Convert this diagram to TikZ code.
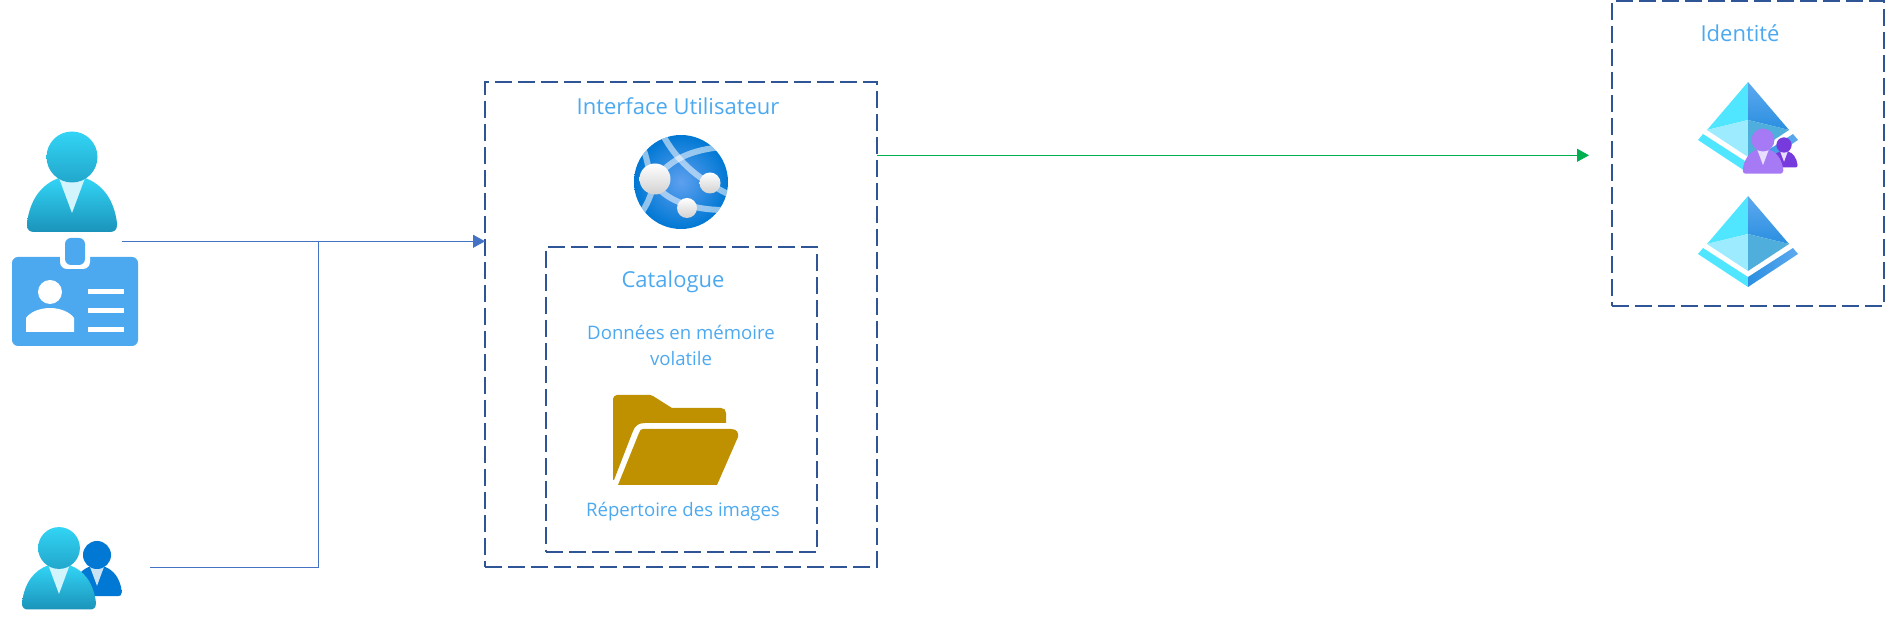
\documentclass[tikz,border=0pt]{standalone}
\usepackage{fontspec}
\setmainfont{Open Sans}
\usetikzlibrary{arrows.meta}
\definecolor{dashblue}{HTML}{2F5597}
\definecolor{linkblue}{HTML}{4472C4}
\definecolor{linkgreen}{HTML}{00B050}
\definecolor{labelblue}{HTML}{4DA9EF}
\definecolor{cyanhi}{HTML}{32D4F5}
\definecolor{cyanlo}{HTML}{1B93BA}
\definecolor{tiepale}{HTML}{D2F4FD}
\definecolor{azure}{HTML}{0078D4}
\definecolor{azuretie}{HTML}{C9E3F5}
\definecolor{azurelight}{HTML}{5EA0EF}
\definecolor{folder}{HTML}{BF9000}
\definecolor{purplefront}{HTML}{A67AF4}
\definecolor{purpleback}{HTML}{773ADC}
\definecolor{purpletie}{HTML}{E8DEFF}
\definecolor{pyrA}{HTML}{50E6FF}
\definecolor{pyrB}{HTML}{9CEBFF}
\definecolor{pyrC}{HTML}{50AEDC}
\definecolor{pyrD}{HTML}{5EA9EF}
\definecolor{pyrE}{HTML}{2A8FE0}
\tikzset{
  zonebox/.style={draw=dashblue,line width=1pt,dash pattern=on 8.5pt off 3pt,inner sep=0pt,outer sep=0pt},
  ziplabel/.style={text=labelblue,inner sep=0pt,align=center,font=\fontsize{11pt}{13pt}\selectfont},
  smalllabel/.style={text=labelblue,inner sep=0pt,align=center,font=\fontsize{9.3pt}{13.2pt}\selectfont},
  linkline/.style={draw=linkblue,line width=0.5pt},
  greenline/.style={draw=linkgreen,line width=0.5pt},
  ballshade/.style={top color=white,bottom color=black!18},
  streak/.style={draw=white,draw opacity=0.55,line width=3pt}
}
% x, y, scale, head top, head bottom, body top, body bottom, tie
\newcommand{\personglyph}[8]{%
  \begin{scope}[shift={(#1,#2)},scale=#3]
    \path[top color=#6,bottom color=#7] (-45,66) .. controls (-42,42) and (-30,27) .. (-13,21) -- (13,21)
      .. controls (30,27) and (42,42) .. (45,66) -- (45,68) .. controls (45,73) and (42,75) .. (38,75)
      -- (-38,75) .. controls (-42,75) and (-45,73) .. (-45,68) -- cycle;
    \fill[#8] (-13,21) -- (13,21) -- (0,56) -- cycle;
    \path[top color=#4,bottom color=#5] (0,0) circle (25.5);
  \end{scope}}
% y offset of the pyramid
\newcommand{\pyramidglyph}[1]{%
  \begin{scope}[shift={(0,#1)}]
    \fill[pyrA] (1748,196) -- (1707,244) -- (1748,234) -- cycle;
    \path[top color=pyrD,bottom color=pyrE] (1748,196) -- (1789,244) -- (1748,234) -- cycle;
    \fill[pyrB] (1707,244) -- (1748,234) -- (1748,271) -- cycle;
    \fill[pyrC] (1789,244) -- (1748,234) -- (1748,271) -- cycle;
    \fill[pyrA] (1698,254) -- (1703,248) -- (1748,277) -- (1748,287) -- cycle;
    \path[left color=pyrE,right color=pyrD] (1798,254) -- (1793,248) -- (1748,277) -- (1748,287) -- cycle;
  \end{scope}}
\begin{document}
\begin{tikzpicture}[x=0.5pt,y=-0.5pt]
\useasboundingbox (0,0) rectangle (1885,619);
% zones
\node[zonebox,minimum width=196pt,minimum height=242.5pt] (ui) at (681,324.5) {};
\node[zonebox,minimum width=135.5pt,minimum height=152.5pt] (cat) at (681.5,399.5) {};
\node[zonebox,minimum width=136pt,minimum height=152.5pt] (idz) at (1748,153.5) {};
% labels
\node[ziplabel] (tui) at (678,106) {Interface Utilisateur};
\node[ziplabel] (tcat) at (673,281.5) {Catalogue};
\node[smalllabel] (tmem) at (681,345.5) {Données en mémoire\\volatile};
\node[smalllabel] (trep) at (683,512) {Répertoire des images};
\node[ziplabel] (tid) at (1740,33) {Identité};
% connectors
\coordinate (usera) at (122,241.3);
\coordinate (userb) at (150,568);
\coordinate (junction) at (318,241.3);
\coordinate (greentip) at (1589,155.3);
\draw[linkline,-{Triangle[length=6pt,width=6.5pt]}] (usera) -- (usera -| ui.west);
\draw[linkline] (userb) -| (junction);
\draw[greenline,-{Triangle[length=6pt,width=6.5pt]}] (greentip -| ui.east) -- (greentip);
% user with badge
\personglyph{72}{157}{1}{cyanhi}{cyanlo!70!cyanhi}{cyanhi}{cyanlo}{tiepale}
\fill[labelblue,rounded corners=3pt] (12,257) rectangle (138,346);
\fill[white,rounded corners=3.5pt] (60,240) rectangle (90,269);
\fill[labelblue,rounded corners=3pt] (65,238) rectangle (85,265);
\fill[white] (50,292) circle (12);
\fill[white] (26,332) -- (26,318) .. controls (30,312) and (40,308) .. (50,308) .. controls (60,308) and (70,312) .. (74,318) -- (74,332) -- cycle;
\fill[white] (88,289.5) rectangle (124,294.5);
\fill[white] (88,308) rectangle (124,313);
\fill[white] (88,327) rectangle (124,332);
% user group
\personglyph{97}{555}{0.55}{azure}{azure}{azure}{azure}{azuretie}
\personglyph{59}{548}{0.82}{cyanhi}{cyanlo!70!cyanhi}{cyanhi}{cyanlo}{tiepale}
% globe
\begin{scope}
  \clip (681,182) circle (47);
  \path[inner color=azurelight,outer color=azure] (634,135) rectangle (728,229);
  \draw[streak] (663,135) .. controls (675,158) and (695,178) .. (730,195);
  \draw[streak] (655,179) .. controls (672,158) and (692,150) .. (722,147);
  \draw[streak] (642,145) .. controls (646,155) and (648,165) .. (650,175);
  \draw[streak] (652,190) .. controls (650,198) and (647,204) .. (642,212);
  \draw[streak] (660,190) .. controls (672,202) and (695,210) .. (724,210);
\end{scope}
\path[ballshade] (655,179) circle (15.5);
\path[ballshade] (710,183) circle (10.5);
\path[ballshade] (687,208) circle (10);
% folder
\fill[folder] (613,480) -- (613,399) .. controls (613,397) and (615,395) .. (617,395) -- (650,395) .. controls (651,395) and (652,395) .. (653,396) -- (672,408)
  -- (721,408) .. controls (724,408) and (726,410) .. (726,413) -- (726,423) -- (645,423)
  .. controls (638,423) and (635,426) .. (633,431) -- (614,480) -- cycle;
\fill[folder] (643,429) -- (731,429) .. controls (737,429) and (739,433) .. (738,437) -- (717,485) -- (618,485) -- (639,433) .. controls (640,430) and (641,429) .. (643,429) -- cycle;
% identity icons
\pyramidglyph{-114}
\pyramidglyph{0}
\personglyph{1784}{145}{0.3}{purpleback}{purpleback}{purpleback}{purpleback}{purpletie}
\personglyph{1763}{140}{0.45}{purplefront}{purplefront}{purplefront}{purplefront}{purpletie}
\end{tikzpicture}
\end{document}
